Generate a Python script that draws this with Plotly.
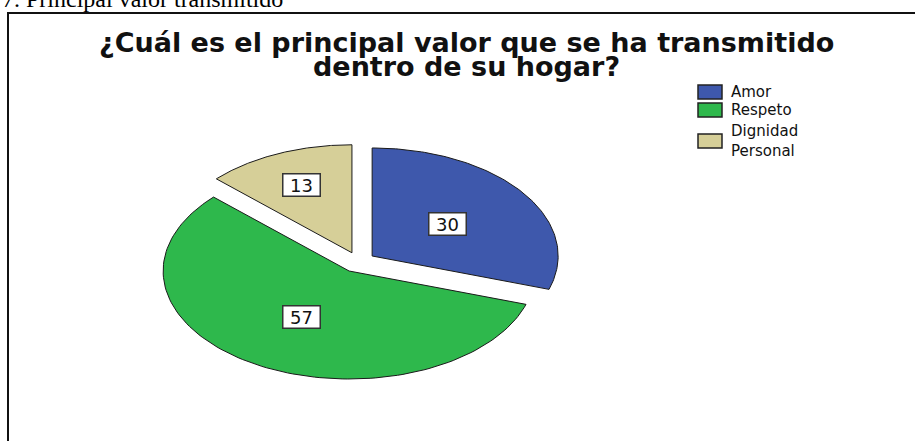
import numpy as np
import plotly.graph_objects as go

# ---- data ----
categories = ["Amor", "Respeto", "Dignidad Personal"]
values = [30, 57, 13]
colors = ["#3E58AC", "#2EB84C", "#D6CF98"]
title_lines = ["¿Cuál es el principal valor que se ha transmitido", "dentro de su hogar?"]
caption = "7. Principal valor transmitido"

# ---- style / geometry ----
W, H = 915, 441
pull = [0.09, 0.10, 0.09]
label_r = [0.5, 0.5, 0.68]
CX, CY = 358.6, 261.7     # pie centre in pixels
RX, RY = 186.0, 108.0     # pie radii in pixels (stretched pie)

xr = [-CX / RX, (W - CX) / RX]
yr = [-(H - CY) / RY, CY / RY]

def px(x):
    return x / W

def py(y):
    return 1 - y / H

fig = go.Figure()
total = float(sum(values))
start = 0.0
label_pos = []
for i, (cat, v) in enumerate(zip(categories, values)):
    a0 = start
    a1 = start + v / total * 360.0
    mid = np.radians((a0 + a1) / 2)
    ox, oy = pull[i] * np.sin(mid), pull[i] * np.cos(mid)
    th = np.radians(np.linspace(a0, a1, 120))
    xs = np.concatenate([[ox], ox + np.sin(th), [ox]])
    ys = np.concatenate([[oy], oy + np.cos(th), [oy]])
    fig.add_trace(go.Scatter(
        x=xs, y=ys, mode="lines", fill="toself", fillcolor=colors[i],
        line=dict(color="#1a1a1a", width=1), name=cat, showlegend=False,
        hoverinfo="skip"))
    label_pos.append((ox + label_r[i] * np.sin(mid), oy + label_r[i] * np.cos(mid)))
    start = a1

annotations = []
for (lx, ly), v in zip(label_pos, values):
    annotations.append(dict(
        x=lx, y=ly, xref="x", yref="y", text=str(v), showarrow=False,
        font=dict(family="DejaVu Sans", size=18, color="#111"),
        bgcolor="white", bordercolor="#333", borderwidth=1.5, borderpad=2,
        width=32, height=17, xanchor="center", yanchor="middle"))

# title
annotations.append(dict(x=px(466), y=py(42), xref="paper", yref="paper", text=title_lines[0],
                        showarrow=False, xanchor="center", yanchor="middle",
                        font=dict(family="DejaVu Sans", size=27, color="#111", weight="bold")))
annotations.append(dict(x=px(467), y=py(67), xref="paper", yref="paper", text=title_lines[1],
                        showarrow=False, xanchor="center", yanchor="middle",
                        font=dict(family="DejaVu Sans", size=27, color="#111", weight="bold")))
# caption (partly cut off at the top, as in the source)
annotations.append(dict(x=px(0), y=py(-1), xref="paper", yref="paper", text=caption,
                        showarrow=False, xanchor="left", yanchor="middle",
                        font=dict(family="Liberation Serif", size=24, color="#000")))

# manual legend
shapes = []
sq_centers = [92, 110, 141]
for i, cat in enumerate(categories):
    c = sq_centers[i]
    shapes.append(dict(type="rect", xref="paper", yref="paper",
                       x0=px(698), x1=px(722), y0=py(c + 7), y1=py(c - 7),
                       fillcolor=colors[i], line=dict(color="#222", width=1.5)))
    annotations.append(dict(x=px(729), y=py(c), xref="paper", yref="paper",
                            text=cat.replace(" ", "<br>"), align="left",
                            showarrow=False, xanchor="left", yanchor="middle",
                            font=dict(family="DejaVu Sans", size=15, color="#111")))

# outer frame (extends past right / bottom edge)
shapes.append(dict(type="rect", xref="paper", yref="paper",
                   x0=px(8), x1=1.2, y0=-0.2, y1=py(13),
                   line=dict(color="#111", width=2), fillcolor="rgba(0,0,0,0)", layer="below"))

fig.update_layout(
    width=W, height=H, margin=dict(l=0, r=0, t=0, b=0),
    paper_bgcolor="white", plot_bgcolor="white",
    xaxis=dict(range=xr, visible=False, fixedrange=True),
    yaxis=dict(range=yr, visible=False, fixedrange=True),
    annotations=annotations, shapes=shapes, showlegend=False)

fig.write_html("out.html", config={"displayModeBar": False},
               post_script="document.body.style.margin='0';document.body.style.overflow='hidden';")
